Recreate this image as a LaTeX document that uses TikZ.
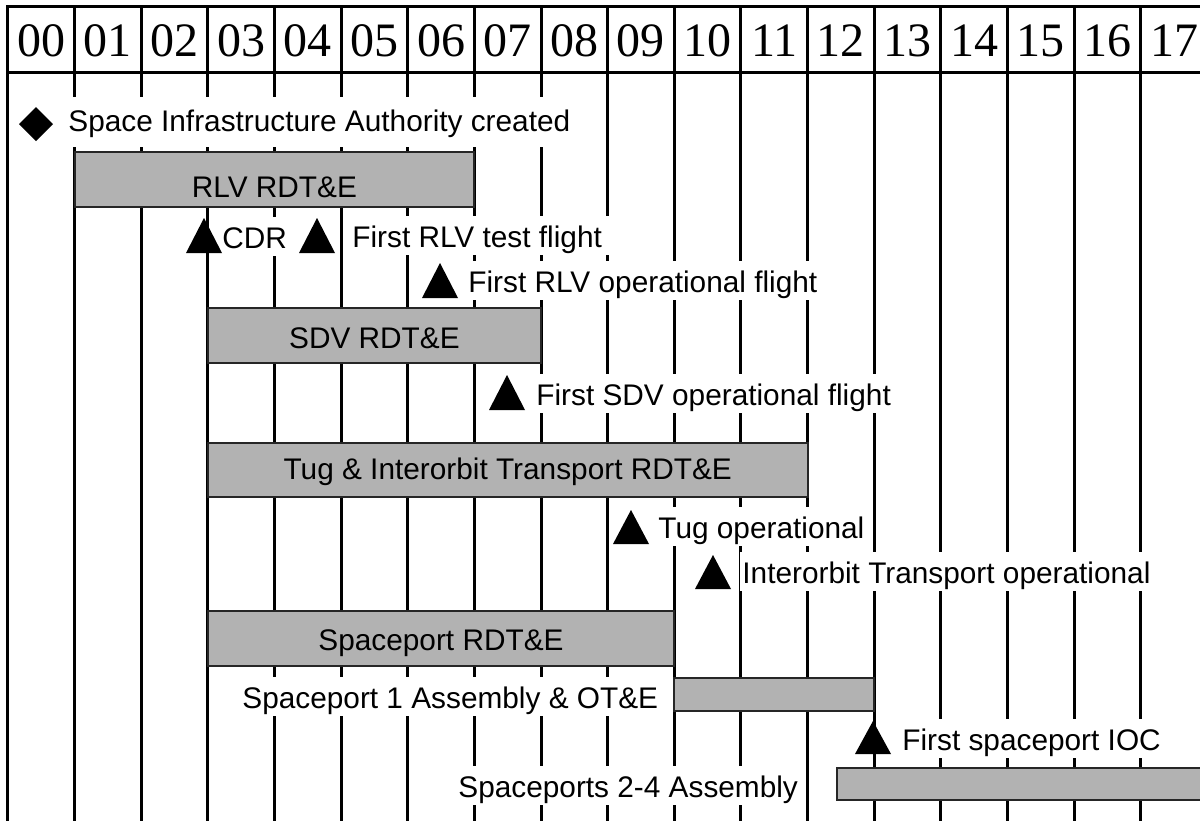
\documentclass[tikz,border=0pt]{standalone}
\usepackage{fontspec}
\setmainfont{Liberation Serif}
\setsansfont{Liberation Sans}
\usepackage{tikz}

\begin{document}
\begin{tikzpicture}[x=0.5pt, y=-0.5pt,
            gridline/.style={line width=1.5pt, line cap=rect},
            bar/.style={draw=black!85, line width=1pt, fill=black!30},
            milestone/.style={fill=black},
            yearlabel/.style={font=\fontsize{24pt}{27pt}\selectfont},
            barlabel/.style={anchor=base, font=\sffamily\fontsize{14.9pt}{17pt}\selectfont},
            eventlabel/.style={anchor=base west, fill=white, inner xsep=3.5pt, inner ysep=0pt,
                text height=15.5pt, text depth=3.75pt, font=\sffamily\fontsize{14.9pt}{17pt}\selectfont}]
            \clip (0,0) rectangle (1200,820);

            \foreach \i in {0,...,17}
                \draw[gridline] ({7.8+66.65*\i},6) -- ({7.8+66.65*\i},830);
            \draw[gridline] (7.8,6) -- (1210,6);
            \draw[gridline] (7.8,72) -- (1210,72);
            \foreach \yr [count=\i from 0] in {00,01,02,03,04,05,06,07,08,09,10,11,12,13,14,15,16,17}
                \node[yearlabel] (yr\i) at ({41.1+66.65*\i},41) {\yr};

            \node[eventlabel, text height=17pt, text depth=8pt] (sia) at (61,131) {Space Infrastructure Authority created};
            \fill[milestone] (36,124) ++(-17,0) -- ++(17,-17) -- ++(17,17) -- ++(-17,17) -- cycle;

            \draw[bar] (74.5,152) rectangle (474.3,207);
            \node[barlabel] (rlv) at (274.4,197) {RLV RDT\&E};

            \node[eventlabel] (cdr) at (215,248) {CDR};
            \node[eventlabel] (rlvtest) at (345,247) {First RLV test flight};
            \fill[milestone] (204,253) ++(-18,0) -- ++(18,-35) -- ++(18,35) -- cycle;
            \fill[milestone] (317,253) ++(-18,0) -- ++(18,-35) -- ++(18,35) -- cycle;

            \node[eventlabel] (rlvop) at (461,292) {First RLV operational flight};
            \fill[milestone] (440,298) ++(-18,0) -- ++(18,-35) -- ++(18,35) -- cycle;

            \draw[bar] (207.8,308) rectangle (541,363);
            \node[barlabel] (sdv) at (374.4,348) {SDV RDT\&E};

            \node[eventlabel] (sdvop) at (529,405) {First SDV operational flight};
            \fill[milestone] (507,410) ++(-18,0) -- ++(18,-35) -- ++(18,35) -- cycle;

            \draw[bar] (207.8,443) rectangle (807.6,497);
            \node[barlabel] (tug) at (507.7,479) {Tug \& Interorbit Transport RDT\&E};

            \node[eventlabel] (tugop) at (651,538) {Tug operational};
            \fill[milestone] (631,544) ++(-18,0) -- ++(18,-34) -- ++(18,34) -- cycle;

            \node[eventlabel, inner xsep=1pt] (iotop) at (740,583) {Interorbit Transport operational};
            \fill[milestone] (713,589) ++(-18,0) -- ++(18,-34) -- ++(18,34) -- cycle;

            \draw[bar] (207.8,611) rectangle (674.3,666);
            \node[barlabel] (port) at (441,650) {Spaceport RDT\&E};

            \node[eventlabel] (port1) at (235,708) {Spaceport 1 Assembly \& OT\&E};
            \draw[bar] (674.3,678) rectangle (874.3,711);

            \node[eventlabel] (ioc) at (895,750) {First spaceport IOC};
            \fill[milestone] (873,754) ++(-18,0) -- ++(18,-33) -- ++(18,33) -- cycle;

            \node[eventlabel] (ports24) at (451,797) {Spaceports 2-4 Assembly};
            \draw[bar] (837,768) rectangle (1215,800);
         \end{tikzpicture}
\end{document}
